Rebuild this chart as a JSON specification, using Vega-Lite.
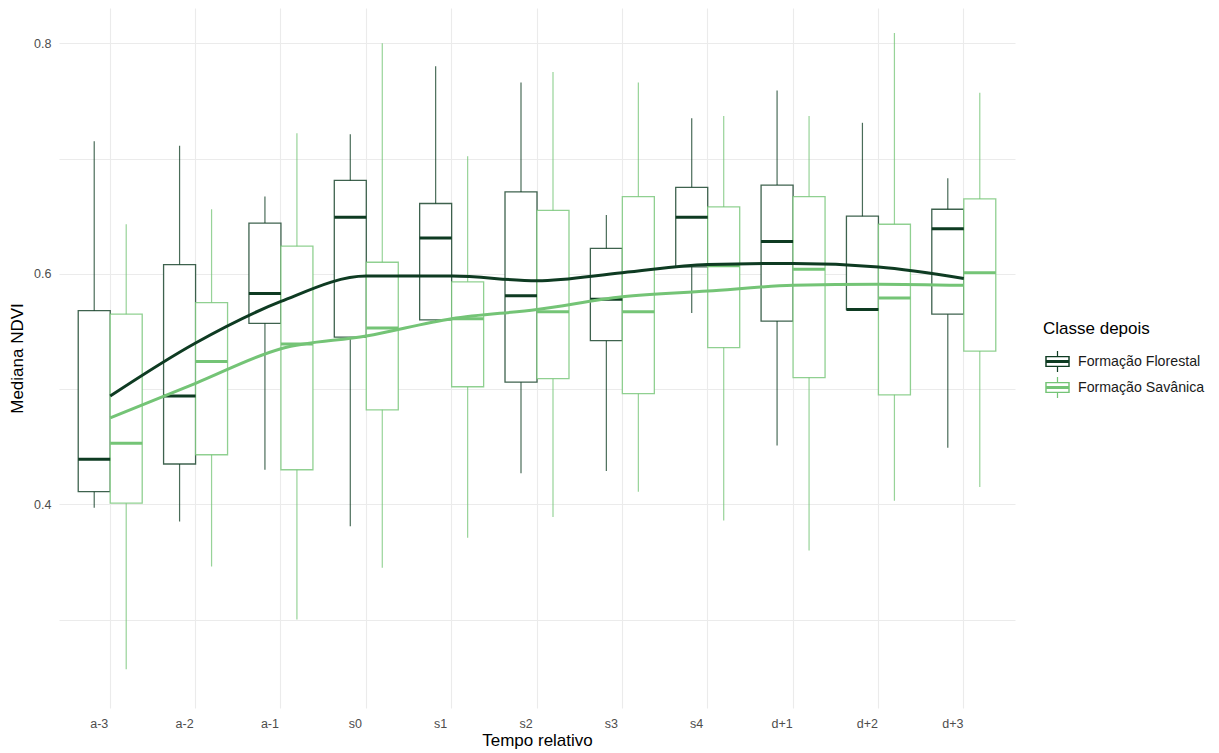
{
  "$schema": "https://vega.github.io/schema/vega-lite/v6.json",
  "width": 956,
  "height": 700,
  "autosize": {"type": "none"},
  "padding": {"left": 59, "top": 8, "right": 204, "bottom": 45},
  "background": "white",
  "config": {
    "view": {"stroke": null},
    "font": "Liberation Sans",
    "axis": {"domain": false, "ticks": false, "gridColor": "#EBEBEB", "gridWidth": 1.1, "labelColor": "#4D4D4D", "labelFontSize": 12.5, "titleColor": "#000000", "titleFontSize": 17, "titleFontWeight": "normal", "labelFont": "Liberation Sans", "titleFont": "Liberation Sans"}
  },
  "data": {"values": [
    {"t": "a-3", "classe": "Formação Florestal", "lower": 0.397, "q1": 0.411, "median": 0.439, "q3": 0.568, "upper": 0.715, "smooth": 0.494},
    {"t": "a-3", "classe": "Formação Savânica", "lower": 0.257, "q1": 0.401, "median": 0.453, "q3": 0.565, "upper": 0.643, "smooth": 0.475},
    {"t": "a-2", "classe": "Formação Florestal", "lower": 0.385, "q1": 0.435, "median": 0.494, "q3": 0.608, "upper": 0.711, "smooth": 0.540},
    {"t": "a-2", "classe": "Formação Savânica", "lower": 0.346, "q1": 0.443, "median": 0.524, "q3": 0.575, "upper": 0.656, "smooth": 0.505},
    {"t": "a-1", "classe": "Formação Florestal", "lower": 0.430, "q1": 0.557, "median": 0.583, "q3": 0.644, "upper": 0.667, "smooth": 0.576},
    {"t": "a-1", "classe": "Formação Savânica", "lower": 0.300, "q1": 0.430, "median": 0.539, "q3": 0.624, "upper": 0.722, "smooth": 0.535},
    {"t": "s0", "classe": "Formação Florestal", "lower": 0.381, "q1": 0.545, "median": 0.649, "q3": 0.681, "upper": 0.721, "smooth": 0.598},
    {"t": "s0", "classe": "Formação Savânica", "lower": 0.345, "q1": 0.482, "median": 0.553, "q3": 0.610, "upper": 0.800, "smooth": 0.546},
    {"t": "s1", "classe": "Formação Florestal", "lower": 0.559, "q1": 0.560, "median": 0.631, "q3": 0.661, "upper": 0.780, "smooth": 0.598},
    {"t": "s1", "classe": "Formação Savânica", "lower": 0.371, "q1": 0.502, "median": 0.561, "q3": 0.593, "upper": 0.702, "smooth": 0.561},
    {"t": "s2", "classe": "Formação Florestal", "lower": 0.427, "q1": 0.506, "median": 0.581, "q3": 0.671, "upper": 0.766, "smooth": 0.594},
    {"t": "s2", "classe": "Formação Savânica", "lower": 0.389, "q1": 0.509, "median": 0.567, "q3": 0.655, "upper": 0.775, "smooth": 0.569},
    {"t": "s3", "classe": "Formação Florestal", "lower": 0.429, "q1": 0.542, "median": 0.578, "q3": 0.622, "upper": 0.651, "smooth": 0.601},
    {"t": "s3", "classe": "Formação Savânica", "lower": 0.411, "q1": 0.496, "median": 0.567, "q3": 0.667, "upper": 0.766, "smooth": 0.580},
    {"t": "s4", "classe": "Formação Florestal", "lower": 0.566, "q1": 0.606, "median": 0.649, "q3": 0.675, "upper": 0.735, "smooth": 0.608},
    {"t": "s4", "classe": "Formação Savânica", "lower": 0.386, "q1": 0.536, "median": 0.607, "q3": 0.658, "upper": 0.737, "smooth": 0.585},
    {"t": "d+1", "classe": "Formação Florestal", "lower": 0.451, "q1": 0.559, "median": 0.628, "q3": 0.677, "upper": 0.759, "smooth": 0.609},
    {"t": "d+1", "classe": "Formação Savânica", "lower": 0.360, "q1": 0.510, "median": 0.604, "q3": 0.667, "upper": 0.737, "smooth": 0.590},
    {"t": "d+2", "classe": "Formação Florestal", "lower": 0.569, "q1": 0.569, "median": 0.569, "q3": 0.650, "upper": 0.731, "smooth": 0.606},
    {"t": "d+2", "classe": "Formação Savânica", "lower": 0.403, "q1": 0.495, "median": 0.579, "q3": 0.643, "upper": 0.809, "smooth": 0.591},
    {"t": "d+3", "classe": "Formação Florestal", "lower": 0.449, "q1": 0.565, "median": 0.639, "q3": 0.656, "upper": 0.683, "smooth": 0.596},
    {"t": "d+3", "classe": "Formação Savânica", "lower": 0.415, "q1": 0.533, "median": 0.601, "q3": 0.665, "upper": 0.757, "smooth": 0.590}
  ]},
  "encoding": {
    "x": {
      "field": "t", "type": "nominal",
      "sort": ["a-3", "a-2", "a-1", "s0", "s1", "s2", "s3", "s4", "d+1", "d+2", "d+3"],
      "scale": {"type": "band", "paddingInner": 0, "paddingOuter": 0.1},
      "axis": {"title": "Tempo relativo", "labelAngle": 0, "labelPadding": 9, "labelOffset": -11, "titlePadding": 3, "bandPosition": 0.5, "grid": true}
    }
  },
  "layer": [
    {
      "mark": {"type": "rule", "strokeWidth": 1.2, "strokeOpacity": 0.75},
      "encoding": {
        "xOffset": {"field": "classe", "type": "nominal", "scale": {"paddingInner": 0, "paddingOuter": 0.334}},
        "y": {
          "field": "lower", "type": "quantitative",
          "scale": {"domain": [0.2233, 0.8306], "nice": false, "zero": false},
          "axis": {"title": "Mediana NDVI", "values": [0.3, 0.4, 0.5, 0.6, 0.7, 0.8], "labelExpr": "(round(datum.value*10)%2==0) ? format(datum.value,'.1f') : ''", "labelPadding": 8, "titlePadding": 7}
        },
        "y2": {"field": "upper"},
        "stroke": {
          "field": "classe", "type": "nominal",
          "scale": {"domain": ["Formação Florestal", "Formação Savânica"], "range": ["#0E3B22", "#74C476"]},
          "legend": {
            "title": "Classe depois", "orient": "none", "legendX": 984, "legendY": 313,
            "titleFontSize": 17, "titleFontWeight": "normal", "titleColor": "#000000", "titleFont": "Liberation Sans",
            "labelFontSize": 14.2, "labelColor": "#1A1A1A", "labelFont": "Liberation Sans",
            "symbolType": "M-1,-0.45H1V0.45H-1Z M-0.88,-0.35V0.35H0.88V-0.35Z M-1,-0.13H1V0.13H-1Z M-0.05,-0.85H0.05V-0.45H-0.05Z M-0.05,0.45H0.05V0.85H-0.05Z",
            "symbolSize": 600, "symbolStrokeWidth": 0, "symbolOpacity": 1, "symbolOffset": 2,
            "rowPadding": 3, "titlePadding": 11, "labelOffset": 8
          }
        }
      }
    },
    {
      "mark": {"type": "bar", "fill": "white", "strokeWidth": 1.3, "strokeOpacity": 0.8},
      "encoding": {
        "xOffset": {"field": "classe", "type": "nominal", "scale": {"paddingInner": 0, "paddingOuter": 0.334}},
        "y": {"field": "q1", "type": "quantitative"},
        "y2": {"field": "q3"},
        "stroke": {"field": "classe", "type": "nominal"}
      }
    },
    {
      "mark": {"type": "tick", "orient": "horizontal", "thickness": 3, "size": 32, "opacity": 1},
      "encoding": {
        "xOffset": {"field": "classe", "type": "nominal", "scale": {"paddingInner": 0, "paddingOuter": 0.334}},
        "y": {"field": "median", "type": "quantitative"},
        "fill": {"field": "classe", "type": "nominal", "scale": {"domain": ["Formação Florestal", "Formação Savânica"], "range": ["#0E3B22", "#74C476"]}, "legend": null}
      }
    },
    {
      "mark": {"type": "line", "strokeWidth": 3, "interpolate": "monotone"},
      "encoding": {
        "y": {"field": "smooth", "type": "quantitative"},
        "stroke": {"field": "classe", "type": "nominal"}
      }
    }
  ]
}
